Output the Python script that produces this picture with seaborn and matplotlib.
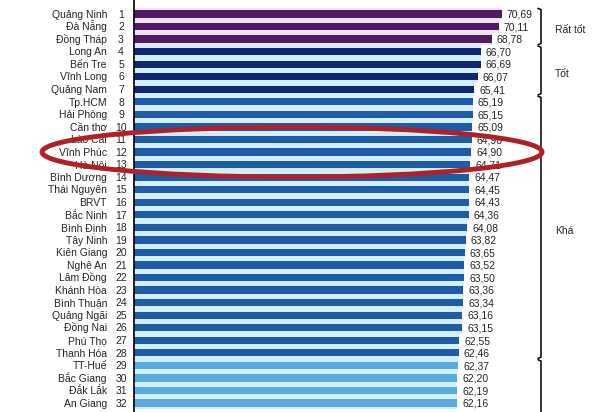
import matplotlib
matplotlib.use("Agg")
import matplotlib.pyplot as plt
import seaborn as sns
import pandas as pd
from matplotlib.patches import Ellipse

provinces = ["Quảng Ninh", "Đà Nẵng", "Đồng Tháp", "Long An", "Bến Tre", "Vĩnh Long",
             "Quảng Nam", "Tp.HCM", "Hải Phòng", "Cần thơ", "Lào Cai", "Vĩnh Phúc",
             "Hà Nội", "Bình Dương", "Thái Nguyên", "BRVT", "Bắc Ninh", "Bình Định",
             "Tây Ninh", "Kiên Giang", "Nghệ An", "Lâm Đồng", "Khánh Hòa", "Bình Thuận",
             "Quảng Ngãi", "Đồng Nai", "Phú Thọ", "Thanh Hóa", "TT-Huế", "Bắc Giang",
             "Đắk Lắk", "An Giang"]
ranks = list(range(1, 33))
scores = [70.69, 70.11, 68.78, 66.70, 66.69, 66.07, 65.41, 65.19, 65.15, 65.09,
          64.98, 64.90, 64.71, 64.47, 64.45, 64.43, 64.36, 64.08, 63.82, 63.65,
          63.52, 63.50, 63.36, 63.34, 63.16, 63.15, 62.55, 62.46, 62.37, 62.20,
          62.19, 62.16]
groups = ["g1"] * 3 + ["g2"] * 4 + ["g3"] * 21 + ["g4"] * 4
group_labels = {"g1": "Rất tốt", "g2": "Tốt", "g3": "Khá"}

dark_pal = {"g1": "#4f1a62", "g2": "#0f2670", "g3": "#1f5ca6", "g4": "#58ace0"}
light_pal = {"g1": "#f1e0ef", "g2": "#d2eefa", "g3": "#d2eefa", "g4": "#d2eefa"}

df = pd.DataFrame({"province": provinces, "rank": ranks, "score": scores, "group": groups})

sns.set_style("white")
plt.rcParams["font.family"] = ["Liberation Sans", "DejaVu Sans"]

W, H = 600, 412
fig = plt.figure(figsize=(W / 100, H / 100), dpi=100)
x0 = 134
ppu = 5.2
ax = fig.add_axes([x0 / W, 0, (W - x0) / W, 1])

sns.barplot(data=df, x="score", y="province", hue="group", palette=light_pal,
            width=1.0, dodge=False, legend=False, ax=ax, saturation=1, linewidth=0)
sns.barplot(data=df, x="score", y="province", hue="group", palette=dark_pal,
            width=0.58, dodge=False, legend=False, ax=ax, saturation=1, linewidth=0)

ax.set_xlim(0, (W - x0) / ppu)
row_px = 12.55
top_idx = -14 / row_px
bot_idx = (H - 14) / row_px
ax.set_ylim(bot_idx, top_idx)

for s in ["top", "right", "bottom"]:
    ax.spines[s].set_visible(False)
ax.spines["left"].set_color("black")
ax.spines["left"].set_linewidth(1.2)
ax.set_xticks([])
ax.set_yticks([])
ax.set_xlabel("")
ax.set_ylabel("")

fs = 7.5
base = 3.7 / row_px  # baseline offset so caps are centred on the row
for i, (name, r, v) in enumerate(zip(provinces, ranks, scores)):
    ax.text(-27 / ppu, i + base, name, ha="right", va="baseline", fontsize=fs, clip_on=False)
    ax.text(-13 / ppu, i + base, str(r), ha="center", va="baseline", fontsize=fs, clip_on=False)
    ax.text(v + 5 / ppu, i + base, f"{v:.2f}".replace(".", ","), ha="left", va="baseline",
            fontsize=fs, clip_on=False)

# group brackets
bx = (541 - x0) / ppu
hook = 3 / ppu
order = ["g1", "g2", "g3", "g4"]
for g in order:
    idx = [i for i, gg in enumerate(groups) if gg == g]
    a, b = idx[0] - 0.5 + 0.15, idx[-1] + 0.5 - 0.15
    if g == "g4":
        b = bot_idx + 1
    ax.plot([bx - hook, bx, bx, bx - hook], [a - 0.1, a, b, b + 0.1], color="black",
            lw=1.1, clip_on=False)
    if g in group_labels:
        ax.text((555 - x0) / ppu, (idx[0] + idx[-1]) / 2 + base + 0.2, group_labels[g],
                ha="left", va="baseline", fontsize=fs, clip_on=False)

# red highlight ellipse
fig.add_artist(Ellipse((292 / W, 1 - 152 / H), 500 / W, 50 / H,
                       transform=fig.transFigure, fill=False,
                       edgecolor="#b0202a", lw=3.5))

fig.savefig("out.png", dpi=100)
